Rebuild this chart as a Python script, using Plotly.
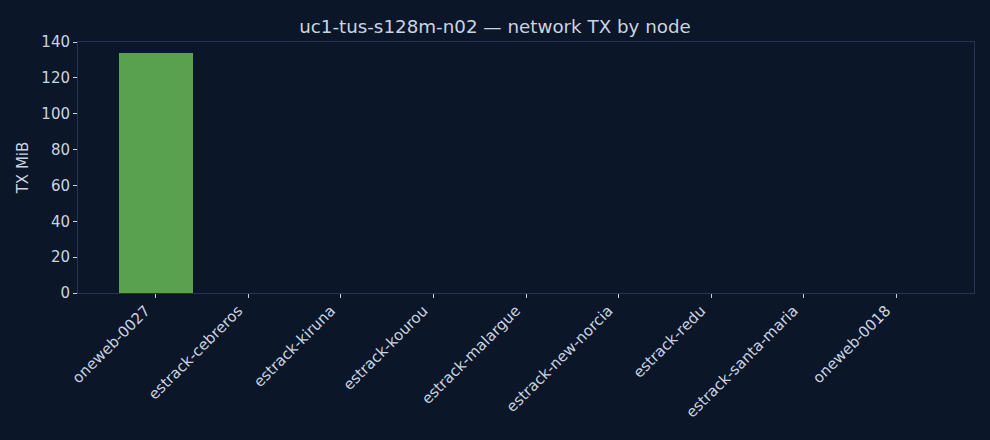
import plotly.graph_objects as go

# per-node TX volume
nodes = ["oneweb-0027", "estrack-cebreros", "estrack-kiruna", "estrack-kourou",
         "estrack-malargue", "estrack-new-norcia", "estrack-redu",
         "estrack-santa-maria", "oneweb-0018"]
tx_mib = [133.9, 0, 0, 0, 0, 0, 0, 0, 0]
y_ticks = [0, 20, 40, 60, 80, 100, 120, 140]

bg = "#0b1628"
text_col = "#c9d4e2"
spine = "#26354f"

fig = go.Figure(go.Bar(x=nodes, y=tx_mib, width=0.8, marker_color="#59a14f",
                       marker_line_width=0))

fig.update_layout(
    width=990, height=440,
    paper_bgcolor=bg, plot_bgcolor=bg,
    font=dict(family="DejaVu Sans", color=text_col, size=15),
    title=dict(text="uc1-tus-s128m-n02 — network TX by node", x=0.5, xanchor="center",
               y=0.94, yanchor="middle", font=dict(size=18.3)),
    margin=dict(l=78, r=16, t=42, b=147),
    showlegend=False,
    bargap=0,
)
fig.update_xaxes(range=[-0.84, 8.84], tickangle=-45, ticks="outside", ticklen=4,
                 tickcolor=text_col, tickfont=dict(size=15),
                 ticklabelshift=-10, ticklabelstandoff=-2,
                 showline=True, linecolor=spine, mirror=True,
                 showgrid=False, zeroline=False)
fig.update_yaxes(range=[0, 140], tickvals=y_ticks, ticks="outside", ticklen=4,
                 tickcolor=text_col, tickfont=dict(size=15),
                 showline=True, linecolor=spine, mirror=True,
                 showgrid=False, zeroline=False,
                 title=dict(text="TX MiB", standoff=9, font=dict(size=15)))

# drop the default page margin so the figure fills the window
fig.write_html("out.html", config={"displayModeBar": False},
               post_script="document.body.style.margin='0';")
